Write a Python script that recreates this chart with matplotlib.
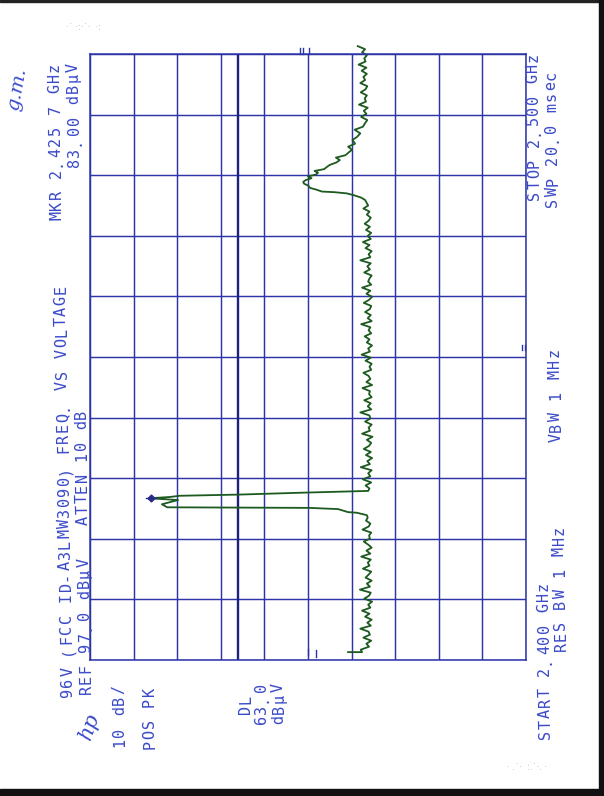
import numpy as np
import matplotlib.pyplot as plt

# spectrum analyser plot (HP), page scanned sideways: amplitude runs left->right
# (ref level at the left edge), frequency runs bottom->top
REF_LEVEL = 97.0      # dBuV
DB_PER_DIV = 10.0
F_START = 2400.0      # MHz
F_STOP = 2500.0
DL_LEVEL = 63.0

MKR_FREQ = 2426.7
MKR_LEVEL = 83.0

# start of sweep (little stub) + noise floor below the carrier
stub_freq = [2401.3, 2401.3]
stub_level = [37.8, 34.6]
low_noise = [34.9, 33.0, 33.6, 32.5, 34.3, 32.8, 33.1, 35.0, 32.6, 33.4, 32.4, 33.9,
             32.9, 34.6, 32.7, 33.2, 32.3, 34.1, 33.0, 32.6, 35.1, 32.8, 33.5, 32.4,
             33.8, 33.1, 32.5, 34.4, 32.9, 33.3, 32.6, 34.8, 32.7, 33.6, 32.4, 33.2,
             34.2, 32.8, 33.0, 32.5, 34.5, 33.1, 32.7, 33.7, 33.3]
low_span = (2401.7, 2423.5)

# carrier
peak_freq = [2423.9, 2424.3, 2424.4, 2424.9, 2425.1, 2425.2, 2425.7, 2426.4, 2426.6,
             2426.7, 2426.9, 2427.1, 2427.3, 2427.6, 2427.9]
peak_level = [33.5, 35.8, 37.8, 40.1, 46.5, 79.3, 80.5, 76.8, 81.4,
              83.0, 78.7, 76.4, 62.6, 48.8, 33.2]

mid_noise = [32.9, 33.8, 32.5, 34.4, 32.7, 33.2, 32.4, 34.9, 32.8, 33.4, 32.3, 33.7,
             32.6, 34.2, 33.0, 32.5, 33.5, 32.2, 34.6, 32.8, 33.1, 32.4, 33.9, 32.7,
             32.9, 35.0, 32.5, 33.3, 32.6, 34.1, 32.4, 33.0, 32.8, 34.5, 32.3, 33.6,
             32.7, 33.1, 34.3, 32.5, 32.9, 32.4, 33.8, 32.6, 34.7, 32.8, 33.2, 32.3,
             33.5, 32.9, 34.0, 32.5, 33.1, 32.7, 34.8, 32.4, 33.3, 32.6, 33.9, 32.8,
             32.5, 34.2, 33.0, 32.3, 33.6, 32.7, 34.6, 32.5, 33.2, 32.9, 32.4, 34.1,
             32.8, 33.4, 32.6, 35.0, 32.7, 33.1, 32.4, 33.8, 32.9, 34.4, 32.6, 33.3,
             32.5, 33.7, 32.8, 34.0, 33.1, 32.6, 33.5, 32.9, 34.3, 33.2, 33.6]
mid_span = (2428.3, 2475.5)

# wide bump near 2.48 GHz
bump_freq = [2475.9, 2476.3, 2476.7, 2477.0, 2477.2, 2477.3, 2477.6, 2477.9, 2478.3,
             2478.6, 2478.9, 2479.2, 2479.5, 2479.8, 2480.1, 2480.4, 2480.7, 2481.0,
             2481.4, 2481.7, 2482.1, 2482.5, 2482.9, 2483.3, 2483.8, 2484.2, 2484.7,
             2485.2, 2485.8, 2486.3, 2486.9, 2487.5, 2488.0, 2488.6]
bump_level = [33.9, 34.8, 36.5, 38.1, 41.0, 43.8, 45.0, 46.5, 47.0,
              47.9, 48.1, 47.5, 46.2, 47.0, 45.2, 44.7, 45.5, 43.3,
              42.6, 42.0, 40.5, 39.7, 40.6, 38.4, 37.6, 36.9, 37.8,
              36.2, 36.8, 35.8, 35.0, 36.3, 34.4, 33.9]

high_noise = [33.4, 34.8, 33.6, 34.2, 33.3, 35.3, 33.7, 34.0, 33.5, 34.9, 33.8, 33.4,
              35.0, 33.9, 34.3, 33.5, 34.7, 33.6, 35.4, 33.8, 34.1, 33.5, 34.6, 33.9, 35.6]
high_span = (2489.1, 2501.3)

# little pen ticks on the plot (level, f0, f1)
pen_ticks = [(47.0, 2400.8, 2401.8), (45.2, 2400.5, 2401.6),
             (48.8, 2501.0, 2500.0), (48.1, 2501.0, 2500.0), (46.8, 2501.0, 2500.0),
             (-2.1, 2451.2, 2452.0), (-2.8, 2451.2, 2452.0)]

# plotter annotations: text, x centre (px), start y (px), aligned at its start or end
labels = [
    ('96V (FCC ID-A3LMW3090) FREQ. VS VOLTAGE', 68, 698, 'start'),
    ('REF 97.0 dB\u00b5V   ATTEN 10 dB', 86, 695, 'start'),
    ('MKR 2.425 7 GHz', 57, 62, 'end'),
    ('83.00 dB\u00b5V', 75, 62, 'end'),
    ('STOP 2.500 GHz', 535, 52, 'end'),
    ('SWP 20.0 msec', 553, 70, 'end'),
    ('VBW 1 MHz', 556, 443, 'start'),
    ('START 2.400 GHz', 546, 740, 'start'),
    ('RES BW 1 MHz', 561, 652, 'start'),
    ('10 dB/', 120, 748, 'start'),
    ('POS PK', 150, 750, 'start'),
    ('DL', 246, 715, 'start'),
    ('63.0', 262, 725, 'start'),
    ('dB\u00b5V', 279, 725, 'start'),
]

GRID_C = '#2c34a8'
TEXT_C = '#3848c8'
TRACE_C = '#1c5a1f'

W, H = 604, 796
PITCH = 10.6     # plotter character pitch, px
TILT = 0.018     # the scan is turned by about a degree


def fx(x):
    return x / W


def fy(y):
    return 1 - y / H


def plotter_text(fig, s, x0, y0, anchor):
    if anchor == 'end':
        y0 = y0 + len(s) * PITCH
    for i, ch in enumerate(s):
        if ch == ' ':
            continue
        y = y0 - (i + 0.5) * PITCH
        x = x0 + TILT * (y - y0)
        fig.text(fx(x), fy(y), ch, rotation=91, color=TEXT_C, family='DejaVu Sans Mono',
                 fontsize=11, ha='center', va='center')


freq = np.concatenate([stub_freq,
                       np.linspace(*low_span, len(low_noise)),
                       peak_freq,
                       np.linspace(*mid_span, len(mid_noise)),
                       bump_freq,
                       np.linspace(*high_span, len(high_noise))])
level = np.concatenate([stub_level, low_noise, peak_level, mid_noise, bump_level, high_noise])

fig = plt.figure(figsize=(W / 100, H / 100), dpi=100)
fig.patch.set_facecolor('white')
ax = fig.add_axes([fx(90), fy(660), 436 / W, 606 / H])

bottom_level = REF_LEVEL - 10 * DB_PER_DIV
ax.set_xlim(REF_LEVEL, bottom_level)
ax.set_ylim(F_START, F_STOP)
for v in np.linspace(bottom_level, REF_LEVEL, 11):
    ax.axvline(v, color=GRID_C, lw=1.05)
for f in np.linspace(F_START, F_STOP, 11):
    ax.axhline(f, color=GRID_C, lw=1.05)
for s in ax.spines.values():
    s.set_color(GRID_C)
    s.set_linewidth(1.1)
ax.set_xticks([])
ax.set_yticks([])

ax.axvline(DL_LEVEL, color='#1c2080', lw=1.7)

ax.plot(level, freq, color=TRACE_C, lw=1.3, clip_on=False)
ax.plot([MKR_LEVEL], [MKR_FREQ], marker='D', ms=3.5, color='#2a2a8a', clip_on=False)
ax.plot([MKR_LEVEL + 1.2, MKR_LEVEL - 1.2], [MKR_FREQ, MKR_FREQ], color='#2a2a8a', lw=1)

for lv, f0, f1 in pen_ticks:
    ax.plot([lv, lv], [f0, f1], color=GRID_C, lw=1.0, clip_on=False)

for s, x0, y0, anchor in labels:
    plotter_text(fig, s, x0, y0, anchor)

fig.text(fx(90), fy(742), 'hp', rotation=70, color=TEXT_C, family='DejaVu Serif',
         style='italic', fontsize=15, ha='center', va='bottom')

# handwriting and scanner dirt
fig.text(fx(17), fy(112), 'g.m.', rotation=80, color='#3a4ad0', family='DejaVu Serif',
         style='italic', fontsize=14, ha='center', va='bottom')
fig.text(fx(66), fy(27), '\u00b7\u02d9 \u00b7:\u00b7\u02d9\u00b7  \u00b7:', color='#b0b0b8', fontsize=6, va='center')
fig.text(fx(507), fy(767), '\u00b7 .\u02d9\u00b7  :.\u02d9\u00b7. \u00b7', color='#b0b0b8', fontsize=6, va='center')

# dark scanner edges
fig.patches.append(plt.Rectangle((0, fy(2)), 1, 2 / H, transform=fig.transFigure, color='#222', zorder=0))
fig.patches.append(plt.Rectangle((fx(599), 0), 5 / W, 1, transform=fig.transFigure, color='#111', zorder=0))
fig.patches.append(plt.Rectangle((0, 0), 1, 7 / H, transform=fig.transFigure, color='#111', zorder=0))

fig.savefig('out.png', dpi=100, facecolor='white')
